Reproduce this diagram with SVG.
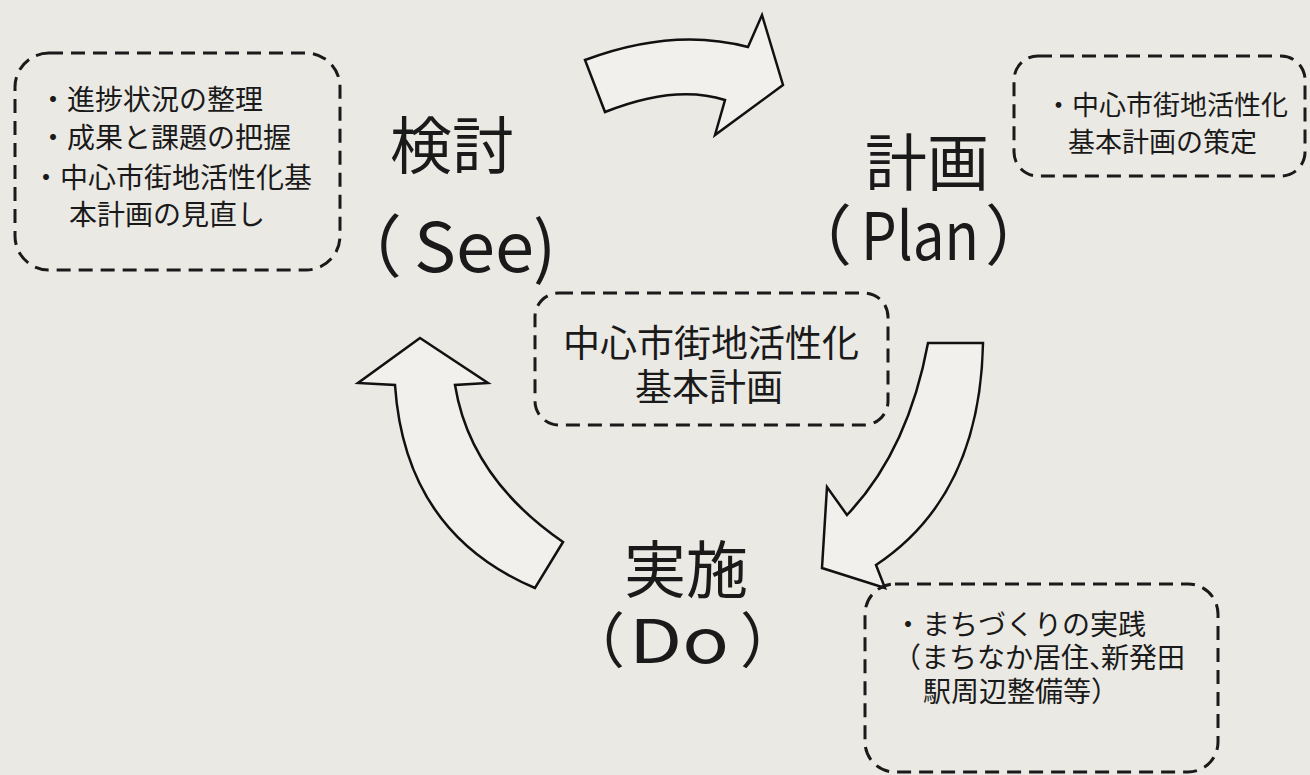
<svg xmlns="http://www.w3.org/2000/svg" width="1310" height="775" viewBox="0 0 1310 775">
<style>
.box{fill:none;stroke:#1a1a1a;stroke-width:3;stroke-dasharray:14 8;stroke-linecap:butt}
.arrow{fill:#f1f0ec;stroke:#111;stroke-width:2.5;stroke-linejoin:miter}
.t{font-family:"Noto Sans CJK JP","Noto Sans",sans-serif;fill:#1a1a1a}
.s{font-size:28px}
.m{font-size:37px}
.big{font-size:62px}
</style>
<rect width="1310" height="775" fill="#ebe9e4"/>
<g id="connectors">
<path class="arrow" d="M585 60 Q673 27 748 47 L762 15 L783 85 L715 135 L725 100 Q675 84 605 112 Z"/>
<path class="arrow" d="M928 343 L983 343 Q980 496 876 565 L885 588 L822 568 L827 487 L847 515 Q908 451 928 343 Z"/>
<path class="arrow" d="M420 338 L488 383 L455 385 Q470 478 563 542 L535 588 Q405 533 395 385 L358 383 Z"/>
</g>
<g id="see-notes">
<rect class="box" x="15" y="53" width="325" height="217" rx="34"/>
<text class="t s" x="39" y="110">・進捗状況の整理</text>
<text class="t s" x="39" y="148">・成果と課題の把握</text>
<text class="t s" x="32" y="188">・中心市街地活性化基</text>
<text class="t s" x="69" y="225">本計画の見直し</text>
</g>
<g id="see">
<text class="t big" x="390" y="169">検討</text>
<text class="t" font-size="68" y="272"><tspan x="334">（</tspan><tspan x="414" textLength="120" lengthAdjust="spacingAndGlyphs">See</tspan><tspan x="533">)</tspan></text>
</g>
<g id="plan-notes">
<rect class="box" x="1014" y="56" width="291" height="120" rx="24"/>
<text class="t" font-size="27" x="1045" y="115">・中心市街地活性化</text>
<text class="t" font-size="27" x="1068" y="152">基本計画の策定</text>
</g>
<g id="plan">
<text class="t big" x="865" y="186">計画</text>
<text class="t" font-size="66" y="260"><tspan x="786">（</tspan><tspan x="861" textLength="118" lengthAdjust="spacingAndGlyphs">Plan</tspan><tspan x="985">）</tspan></text>
</g>
<g id="center">
<rect class="box" x="535" y="293" width="353" height="132" rx="24"/>
<text class="t m" x="711" y="357" text-anchor="middle">中心市街地活性化</text>
<text class="t m" x="709" y="401" text-anchor="middle">基本計画</text>
</g>
<g id="do">
<text class="t big" x="624" y="593">実施</text>
<text class="t" font-size="60" y="663"><tspan x="565">（</tspan><tspan x="629" textLength="100" lengthAdjust="spacingAndGlyphs">Do</tspan><tspan x="740">）</tspan></text>
</g>
<g id="do-notes">
<rect class="box" x="865" y="584" width="353" height="188" rx="30"/>
<text class="t" font-size="28" x="894" y="635">・まちづくりの実践</text>
<text class="t" font-size="28" y="668"><tspan x="893">（まちなか居住</tspan><tspan x="1089">、</tspan><tspan x="1101">新発田</tspan></text>
<text class="t" font-size="28" x="923" y="702">駅周辺整備等）</text>
</g>
</svg>
